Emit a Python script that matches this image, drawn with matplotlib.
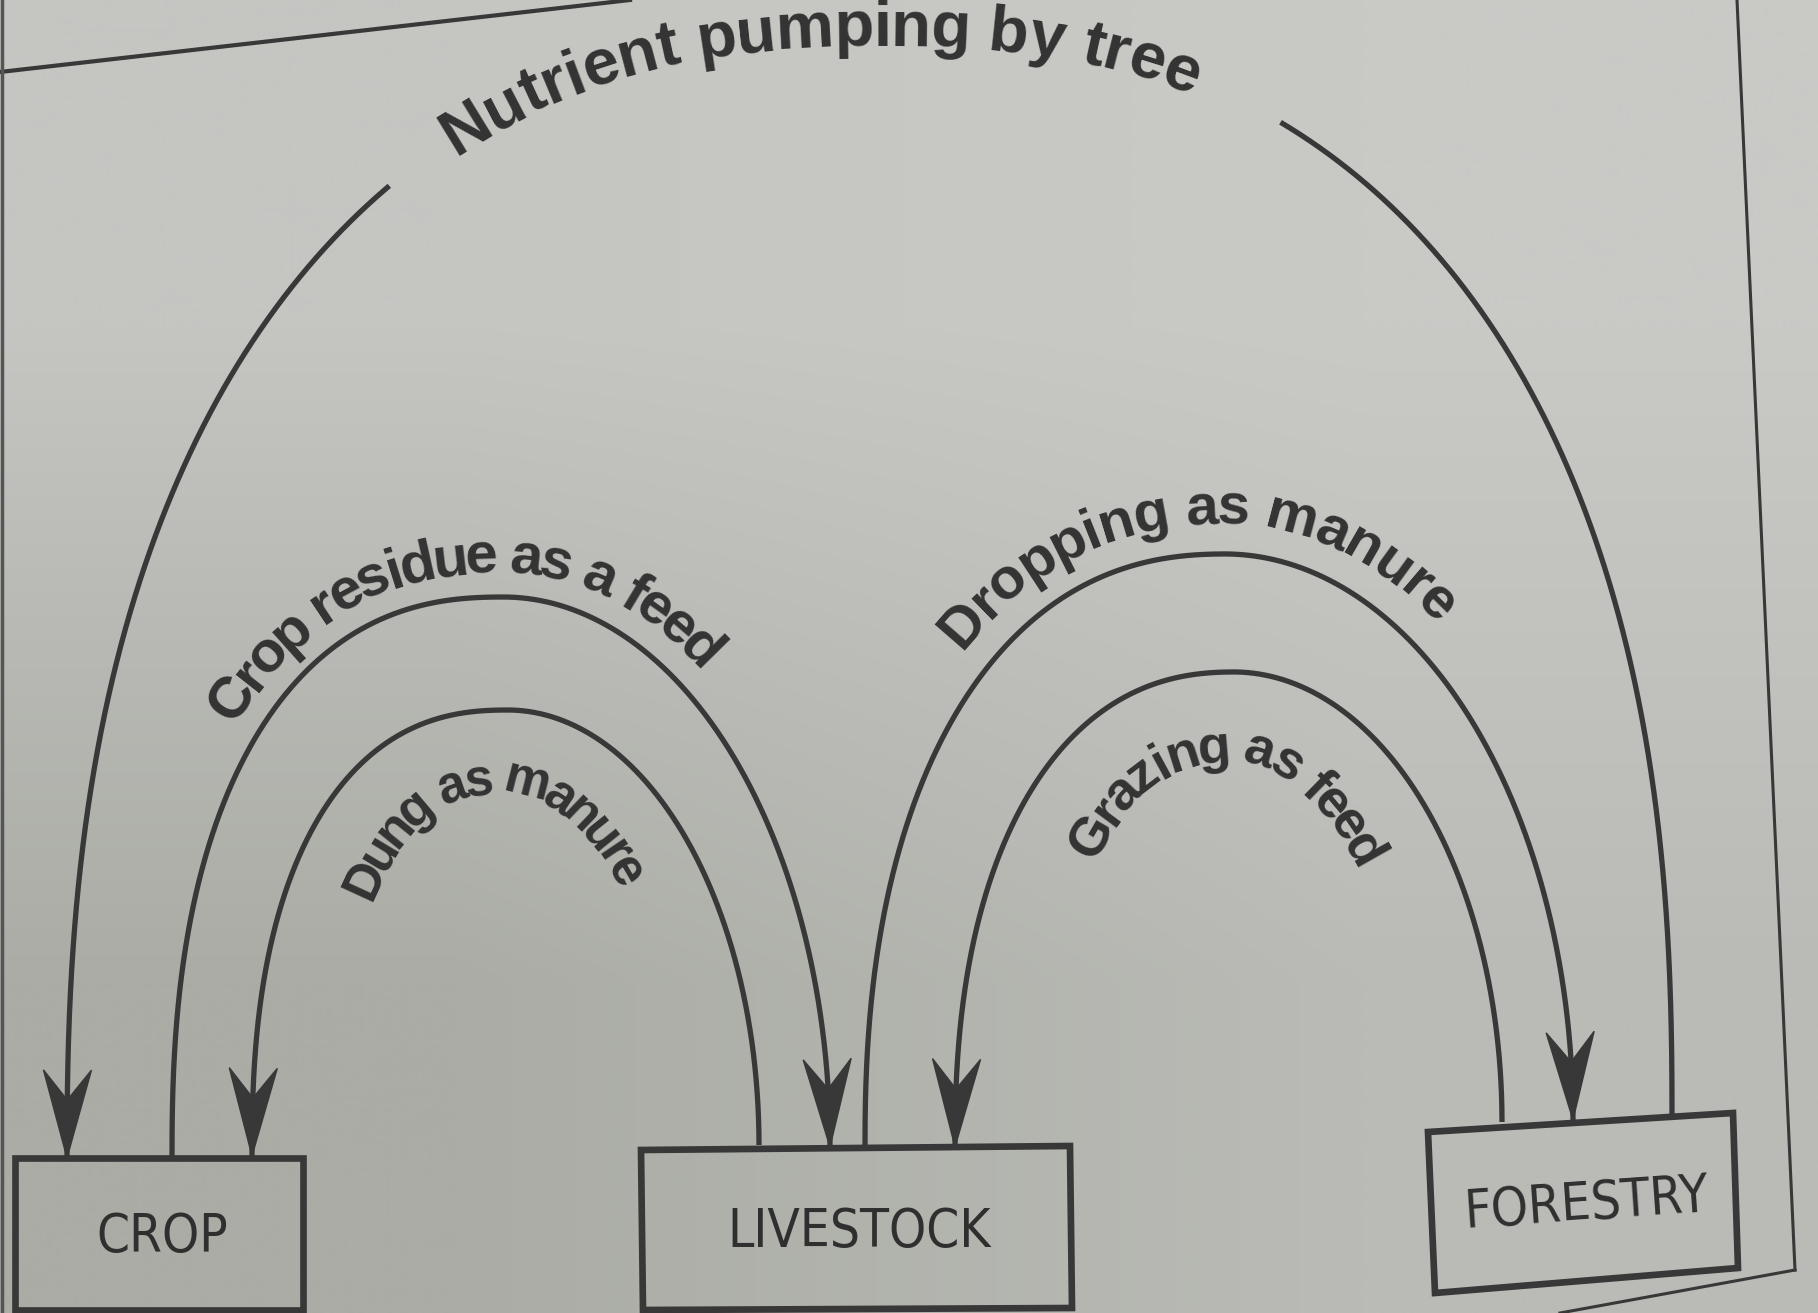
import numpy as np
import matplotlib
matplotlib.use("Agg")
import matplotlib.pyplot as plt
from matplotlib.font_manager import FontProperties
from matplotlib.patches import Polygon
from matplotlib.textpath import TextToPath

# diagram content
nodes = ["CROP", "LIVESTOCK", "FORESTRY"]
flowLabels = ["Nutrient pumping by tree", "Crop residue as a feed",
              "Dung as manure", "Dropping as manure", "Grazing as feed"]
flowFrom = ["FORESTRY", "CROP", "LIVESTOCK", "LIVESTOCK", "FORESTRY"]
flowTo = ["CROP", "LIVESTOCK", "CROP", "FORESTRY", "LIVESTOCK"]

# layout, pixels of the 1818x1313 picture, y pointing down
W, H = 1818, 1313
boxCorners = [
    [(15, 1158), (303, 1158), (303, 1310), (15, 1310)],
    [(641, 1150), (1070, 1146), (1072, 1308), (643, 1310)],
    [(1428, 1132), (1733, 1113), (1738, 1268), (1435, 1293)],
]
boxTextRot = [0, 0, 4]
# arch: x left foot, x right foot, y left foot, y right foot, y top, squareness left / right
arches = [
    (67, 1672, 1158, 1115, 30, 2.4, 2.4),
    (172, 830, 1158, 1147, 597, 2.4, 2.0),
    (252, 759, 1156, 1145, 710, 2.4, 2.0),
    (865, 1573, 1147, 1120, 554, 2.3, 2.0),
    (955, 1502, 1147, 1122, 672, 2.3, 2.0),
]
labelOffset = [-16, 24, -84, 30, -90]
labelStart = [(464, 168), (220, 713), (334, 884), (939, 632), (1053, 838)]
labelEnd = [(1192, 95), (730, 643), (651, 872), (1461, 603), (1399, 848)]
labelSize = [47, 42, 37, 42, 39]
lineGap = [((394, 191), (1281, 122)), None, None, None, None]

INK = "#383838"
TXT = "#333333"
PX = 100 / 72.0
t2p = TextToPath()


def archXY(xl, xr, yl, yr, top, nl, nr, num=3000):
    t = np.linspace(0, np.pi, num)
    c, s = np.cos(t), np.sin(t)
    n = np.where(c > 0, nl, nr)
    cx, a = (xl + xr) / 2, (xr - xl) / 2
    b = (yl + yr) / 2 - top
    x = cx - a * np.sign(c) * np.abs(c) ** (2 / n)
    y = yl + (yr - yl) * t / np.pi - b * np.abs(s) ** (2 / n)
    return x, y


def offsetXY(x, y, d):
    tx, ty = np.gradient(x), np.gradient(y)
    L = np.hypot(tx, ty)
    return x + d * ty / L, y - d * tx / L


def arcLen(x, y):
    return np.concatenate([[0], np.cumsum(np.hypot(np.diff(x), np.diff(y)))])


def nearest(x, y, p):
    return int(np.argmin((x - p[0]) ** 2 + (y - p[1]) ** 2))


def width(s, fp):
    return t2p.get_text_width_height_descent(s, fp, ismath=False)[0] * PX


def textOnPath(ax, x, y, label, p0, p1, fp):
    s = arcLen(x, y)
    s0, s1 = s[nearest(x, y, p0)], s[nearest(x, y, p1)]
    ref = width("l", fp)
    pos = [0.0] + [width(label[:i] + "l", fp) - ref for i in range(1, len(label))]
    pos.append(width(label, fp))
    track = (s1 - s0) / pos[-1]
    tx, ty = np.gradient(x), np.gradient(y)
    for i, ch in enumerate(label):
        if ch == " ":
            continue
        sc = s0 + track * (pos[i] + pos[i + 1]) / 2
        px, py = np.interp(sc, s, x), np.interp(sc, s, y)
        gx, gy = np.interp(sc, s, tx), np.interp(sc, s, ty)
        ang = np.degrees(np.arctan2(-gy, gx))
        ax.text(px, py, ch, fontproperties=fp, color=TXT, rotation=ang,
                rotation_mode="anchor", ha="center", va="baseline", zorder=5)


def arrowHead(ax, tip, back):
    d = np.array(tip) - np.array(back)
    d = d / np.hypot(*d)
    p = np.array([-d[1], d[0]])
    tip = np.array(tip)
    pts = [tip, tip - 88 * d + 24 * p, tip - 58 * d, tip - 88 * d - 24 * p]
    ax.add_patch(Polygon(pts, closed=True, fc=INK, ec=INK, lw=1, zorder=4))


fig = plt.figure(figsize=(W / 100, H / 100), dpi=100)
ax = fig.add_axes([0, 0, 1, 1])
ax.set_xlim(0, W)
ax.set_ylim(H, 0)
ax.axis("off")

# paper background, photo lighting
bg = np.array([[[197, 197, 194], [201, 201, 198]],
               [[170, 172, 165], [186, 187, 182]]]) / 255
ax.imshow(bg, extent=(0, W, H, 0), interpolation="bilinear", zorder=0, aspect="auto")

# page frame
ax.plot([0, 630], [72, 0], color=INK, lw=3.0, zorder=2)
ax.plot([2, 2], [0, H], color="#555555", lw=2.5, zorder=2)
ax.plot([1737, 1795], [0, 1270], color=INK, lw=2.2, zorder=2)
ax.plot([1795, 1560], [1270, 1313], color=INK, lw=2.2, zorder=2)

# boxes
boxFont = FontProperties(family="DejaVu Sans", stretch="condensed", size=38)
centres = {}
for name, corners, rot in zip(nodes, boxCorners, boxTextRot):
    ax.add_patch(Polygon(corners, closed=True, fill=False, ec=INK, lw=4.8,
                         joinstyle="miter", zorder=3))
    cx = np.mean([c[0] for c in corners])
    cy = np.mean([c[1] for c in corners])
    centres[name] = (cx, cy)
    ax.text(cx + 3, cy + 3, name, fontproperties=boxFont, color="#2f2f2f", rotation=rot,
            ha="center", va="center", zorder=5)

# flows
for k, label in enumerate(flowLabels):
    x, y = archXY(*arches[k])
    s = arcLen(x, y)
    mid = (arches[k][0] + arches[k][1]) / 2
    toLeft = centres[flowTo[k]][0] < mid
    if lineGap[k] is None:
        ax.plot(x, y, color=INK, lw=3.8, solid_capstyle="butt", zorder=3)
    else:
        i0 = nearest(x, y, lineGap[k][0])
        i1 = nearest(x, y, lineGap[k][1])
        ax.plot(x[:i0 + 1], y[:i0 + 1], color=INK, lw=3.8, solid_capstyle="butt", zorder=3)
        ax.plot(x[i1:], y[i1:], color=INK, lw=3.8, solid_capstyle="butt", zorder=3)
    if toLeft:
        j = np.searchsorted(s, 60)
        arrowHead(ax, (x[0], y[0]), (x[j], y[j]))
    else:
        j = np.searchsorted(s, s[-1] - 60)
        arrowHead(ax, (x[-1], y[-1]), (x[j], y[j]))
    fp = FontProperties(family="Liberation Sans", weight="bold", size=labelSize[k])
    ox, oy = offsetXY(x, y, labelOffset[k])
    textOnPath(ax, ox, oy, label, labelStart[k], labelEnd[k], fp)

fig.savefig("out.png", dpi=100)
